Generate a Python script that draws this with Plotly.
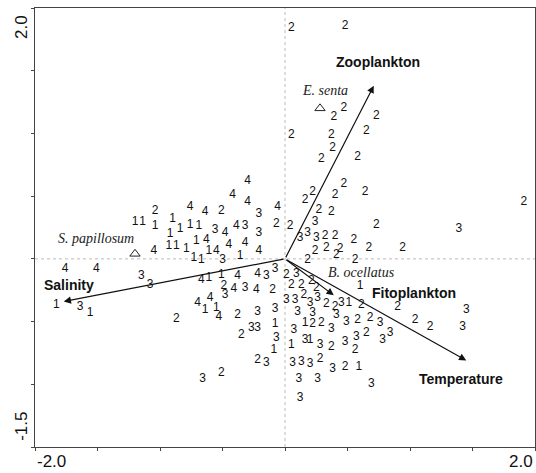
import plotly.graph_objects as go

# ---- site scores (CCA axis 1, axis 2), labelled by sample group ----
c1_x = [0.60, 0.51, 0.16, 0.05, 0.20, 0.59, -1.20, -1.14, -1.04, -0.90, -0.84, -0.76, -0.69, -0.92, -0.93,
        -0.87, -0.79, -0.71, -0.61, -0.36, -0.73, -0.67, -0.61, -0.51, -0.64, -0.55, -0.08, -0.09, -1.83, -1.56]
c1_y = [-0.22, -0.35, -0.51, -0.69, -0.65, -0.86, 0.29, 0.29, 0.26, 0.32, 0.24, 0.27, 0.26, 0.20, 0.10,
        0.10, 0.08, 0.14, 0.06, 0.02, 0.01, -0.01, -0.15, -0.13, -0.41, -0.39, -0.52, -0.73, -0.37, -0.43]

c2_x = [0.05, 0.48, 0.47, 0.39, 0.73, 0.05, 0.37, 0.65, 0.38, 0.29, 0.58, 0.47, 0.40, 0.64, 0.16, 0.22,
        0.27, 0.37, 0.04, 0.32, 0.40, 0.73, 0.55, 0.24, 0.33, 0.44, 0.41, 0.67, 0.94, 0.18, 0.56, 1.91,
        0.90, 1.04, 1.16, 0.01, 0.05, 0.13, 0.21, 0.25, 0.15, 0.33, 0.40, 0.61, 0.58, 0.68, 0.22, 0.29,
        0.65, 0.37, 0.56, 0.28, 0.48, -1.04, -0.51, -0.07, -0.49, -0.10, -0.38, -0.35, -0.22, -0.51, -0.87]
c2_y = [1.84, 1.86, 1.20, 1.13, 1.14, 0.99, 0.99, 1.02, 0.88, 0.80, 0.81, 0.60, 0.51, 0.53, 0.47, 0.53,
        0.39, 0.37, 0.26, 0.18, 0.18, 0.27, 0.15, 0.06, 0.09, 0.08, 0.03, 0.09, 0.09, -0.01, -0.01, 0.45,
        -0.38, -0.49, -0.54, -0.13, -0.21, -0.21, -0.18, -0.23, -0.29, -0.36, -0.38, -0.37, -0.49, -0.47, -0.52, -0.51,
        -0.59, -0.70, -0.73, -0.80, -0.86, 0.38, 0.38, 0.28, -0.22, -0.25, -0.45, -0.61, -0.81, -0.91, -0.48]

c3_x = [0.24, 0.18, 0.12, 0.25, 1.39, 1.45, 1.42, 0.09, 0.01, 0.08, 0.20, 0.26, 0.45, 0.10, 0.22, 0.41,
        0.49, 0.76, 0.07, 0.37, 0.57, 0.78, 0.84, 0.16, 0.28, 0.48, 0.06, 0.13, 0.20, 0.38, 0.11, 0.26,
        0.69, 0.12, -0.21, -0.56, -0.32, -0.21, -0.50, -0.32, -0.15, -0.08, -0.48, -0.22, -0.08, -0.27,
        -0.22, -0.07, -0.15, -0.66, -1.15, -1.08, -1.64]
c3_y = [0.29, 0.21, 0.17, 0.17, 0.24, -0.41, -0.54, -0.12, -0.33, -0.33, -0.35, -0.31, -0.35, -0.42, -0.43, -0.45,
        -0.50, -0.51, -0.57, -0.56, -0.62, -0.65, -0.59, -0.65, -0.69, -0.66, -0.83, -0.82, -0.84, -0.88, -0.96, -0.96,
        -1.00, -1.11, 0.36, 0.23, 0.26, 0.21, -0.01, -0.23, -0.14, -0.08, -0.29, -0.42, -0.40, -0.55,
        -0.55, -0.63, -0.83, -0.96, -0.14, -0.21, -0.38]

c4_x = [-0.30, -0.42, -0.30, -0.76, -0.64, -0.06, -0.48, -0.39, -1.05, -0.63, -0.45, -0.32, -0.55, -0.21,
        -0.67, -0.41, -0.23, -0.22, -0.38, -0.70, -0.60, -0.53, -1.76, -1.51]
c4_y = [0.62, 0.51, 0.45, 0.41, 0.37, 0.41, 0.21, 0.26, 0.06, 0.15, 0.11, 0.13, 0.06, 0.06,
        -0.17, -0.24, -0.25, -0.12, -0.14, -0.35, -0.31, -0.46, -0.08, -0.08]

groups = ["1", "2", "3", "4"]

# ---- species scores ----
species = ["S. papillosum", "E. senta"]
species_x = [-1.20, 0.28]
species_y = [0.04, 1.20]
species_extra = "B. ocellatus"

# ---- environmental variables (arrow tips) ----
env_names = ["Zooplankton", "Salinity", "Fitoplankton", "Temperature"]
env_x = [0.71, -1.77, 0.39, 1.45]
env_y = [1.38, -0.34, -0.29, -0.81]

# label placements (layout, not data)
env_label_pos = {"Zooplankton": (0.74, 1.57), "Salinity": (-1.73, -0.21),
                 "Fitoplankton": (1.03, -0.27), "Temperature": (1.41, -0.96)}
species_label_pos = {"S. papillosum": (-1.51, 0.16), "E. senta": (0.32, 1.34),
                     "B. ocellatus": (0.61, -0.11)}

FONT = "Arial, Liberation Sans, sans-serif"
SERIF = "Times New Roman, Liberation Serif, serif"

fig = go.Figure()

xs = [c1_x, c2_x, c3_x, c4_x]
ys = [c1_y, c2_y, c3_y, c4_y]
for g, x, y in zip(groups, xs, ys):
    fig.add_trace(go.Scatter(x=x, y=y, mode="text", text=[g] * len(x),
                             textfont=dict(family=FONT, size=12, color="#111"),
                             hoverinfo="skip", showlegend=False))

fig.add_trace(go.Scatter(x=species_x, y=species_y, mode="markers",
                         marker=dict(symbol="triangle-up-open", size=9, color="#222", line=dict(width=1)),
                         showlegend=False, hoverinfo="skip"))

annotations = []
for name, ex, ey in zip(env_names, env_x, env_y):
    annotations.append(dict(x=ex, y=ey, ax=0, ay=0, xref="x", yref="y", axref="x", ayref="y",
                            showarrow=True, arrowhead=2, arrowsize=1.2, arrowwidth=1.2,
                            arrowcolor="#111", text=""))
    lx, ly = env_label_pos[name]
    annotations.append(dict(x=lx, y=ly, xref="x", yref="y", text="<b>" + name + "</b>",
                            xanchor="center", yanchor="middle",
                            showarrow=False, font=dict(family=FONT, size=14, color="#111")))

for name in species + [species_extra]:
    lx, ly = species_label_pos[name]
    annotations.append(dict(x=lx, y=ly, xref="x", yref="y", text="<i>" + name + "</i>",
                            xanchor="center", yanchor="middle",
                            showarrow=False, font=dict(family=SERIF, size=14, color="#222")))

# axis end labels
tick_font = dict(family=FONT, size=17, color="#111")
annotations += [
    dict(x=0.0, y=-0.034, xref="paper", yref="paper", text="-2.0", showarrow=False,
         xanchor="left", yanchor="middle", font=tick_font),
    dict(x=1.0, y=-0.034, xref="paper", yref="paper", text="2.0", showarrow=False,
         xanchor="right", yanchor="middle", font=tick_font),
    dict(x=-0.026, y=0.957, xref="paper", yref="paper", text="2.0", showarrow=False,
         xanchor="center", yanchor="middle", font=tick_font, textangle=-90),
    dict(x=-0.026, y=0.046, xref="paper", yref="paper", text="-1.5", showarrow=False,
         xanchor="center", yanchor="middle", font=tick_font, textangle=-90),
]

shapes = [
    dict(type="line", xref="x", yref="paper", x0=0, x1=0, y0=0, y1=1,
         line=dict(color="#bbb", width=1, dash="dot"), layer="below"),
    dict(type="line", xref="paper", yref="y", x0=0, x1=1, y0=0, y1=0,
         line=dict(color="#bbb", width=1, dash="dot"), layer="below"),
]

tickvals_x = [-2.0, -1.5, -1.0, -0.5, 0.0, 0.5, 1.0, 1.5, 2.0]
tickvals_y = [-1.5, -1.0, -0.5, 0.0, 0.5, 1.0, 1.5, 2.0]

fig.update_layout(
    width=536, height=473,
    margin=dict(l=35, r=1, t=8, b=26),
    paper_bgcolor="white", plot_bgcolor="white",
    xaxis=dict(range=[-2.0, 2.0], showgrid=False, zeroline=False, showline=True, mirror=True,
               linecolor="#444", linewidth=1, ticks="outside", ticklen=3, tickcolor="#444",
               tickvals=tickvals_x, showticklabels=False),
    yaxis=dict(range=[-1.5, 2.0], showgrid=False, zeroline=False, showline=True, mirror=True,
               linecolor="#444", linewidth=1, ticks="outside", ticklen=3, tickcolor="#444",
               tickvals=tickvals_y, showticklabels=False),
    annotations=annotations, shapes=shapes, showlegend=False,
)

# remove the default page margin so the 536x473 figure fills the window exactly
fig.write_html("out.html", config={"displayModeBar": False},
               post_script="document.body.style.margin='0';document.body.style.overflow='hidden';")
